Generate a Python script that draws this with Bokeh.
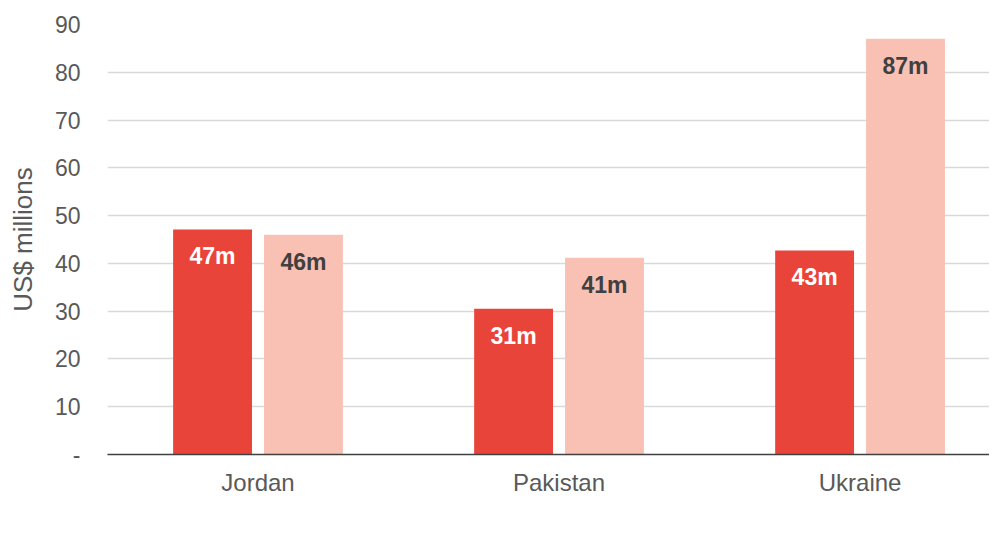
from bokeh.plotting import figure
from bokeh.models import ColumnDataSource, FixedTicker, Legend, LegendItem
from bokeh.transform import dodge
from bokeh.core.properties import value
from bokeh.embed import file_html
from bokeh.resources import INLINE

countries = ["Jordan", "Pakistan", "Ukraine"]
v2021 = [47.1, 30.5, 42.7]
v2022 = [46.0, 41.2, 87.0]
lab2021 = ["47m", "31m", "43m"]
lab2022 = ["46m", "41m", "87m"]
yticks = [0, 10, 20, 30, 40, 50, 60, 70, 80, 90]

xs = list(range(len(countries)))
src = ColumnDataSource(dict(x=xs, c=countries, v1=v2021, v2=v2022, l1=lab2021, l2=lab2022))

FONT = "Liberation Sans"
GREY = "#595959"
RED = "#E8443A"
PINK = "#F9C1B4"
FS = "23px"

# the category band is slightly wider than the visible frame (last band is cut at the right)
p = figure(x_range=(-0.5, 2.430), y_range=(0, 90), width=989, height=550,
           frame_width=882, frame_height=430,
           output_backend="svg", toolbar_location=None,
           min_border_top=24, min_border_left=107, min_border_right=0,
           min_border_bottom=0)
p.outline_line_color = None
p.background_fill_color = "white"

off = 0.151
w = 0.262
r1 = p.vbar(x=dodge("x", -off), top="v1", width=w, source=src,
            fill_color=RED, line_color=None)
r2 = p.vbar(x=dodge("x", off), top="v2", width=w, source=src,
            fill_color=PINK, line_color=None)

p.text(x=dodge("x", -off), y="v1", text="l1", source=src,
       text_align="center", text_baseline="middle", y_offset=27,
       text_font=value(FONT), text_font_style="bold", text_font_size=FS,
       text_color="white")
p.text(x=dodge("x", off), y="v2", text="l2", source=src,
       text_align="center", text_baseline="middle", y_offset=27,
       text_font=value(FONT), text_font_style="bold", text_font_size=FS,
       text_color="#404040")

# y axis
p.yaxis.ticker = FixedTicker(ticks=yticks)
p.yaxis.major_label_overrides = {0: "-"}
p.yaxis.axis_line_color = None
p.yaxis.major_tick_line_color = None
p.yaxis.minor_tick_line_color = None
p.yaxis.major_label_text_font = FONT
p.yaxis.major_label_text_font_size = FS
p.yaxis.major_label_text_color = GREY
p.yaxis.major_label_standoff = 21
p.yaxis.axis_label = "US$ millions"
p.yaxis.axis_label_text_font = FONT
p.yaxis.axis_label_text_font_size = "26px"
p.yaxis.axis_label_text_font_style = "normal"
p.yaxis.axis_label_text_color = GREY
p.yaxis.axis_label_standoff = 14

# x axis
p.xaxis.ticker = FixedTicker(ticks=xs)
p.xaxis.major_label_overrides = {i: c for i, c in zip(xs, countries)}
p.xaxis.axis_line_color = "#404040"
p.xaxis.axis_line_width = 1.5
p.xaxis.major_tick_line_color = None
p.xaxis.minor_tick_line_color = None
p.xaxis.major_label_text_font = FONT
p.xaxis.major_label_text_font_size = "24px"
p.xaxis.major_label_text_color = GREY
p.xaxis.major_label_standoff = 8

p.xgrid.grid_line_color = None
p.ygrid.grid_line_color = "#D9D9D9"
p.ygrid.grid_line_width = 1.5

legend = Legend(items=[LegendItem(label="2021", renderers=[r1]),
                       LegendItem(label="2022", renderers=[r2])],
                orientation="horizontal", location=(321, 4),
                label_text_font=FONT, label_text_font_size=FS,
                label_text_color=GREY, glyph_width=13, glyph_height=14,
                label_standoff=4, spacing=20, border_line_color=None,
                background_fill_alpha=0,
                padding=0, margin=0, label_height=20)
p.add_layout(legend, "below")

open("out.html", "w").write(file_html(p, INLINE))
